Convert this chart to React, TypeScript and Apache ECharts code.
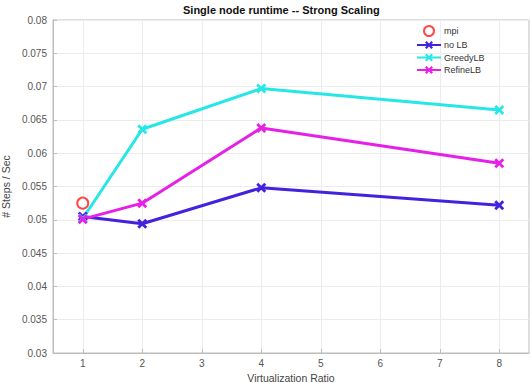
import React, { useEffect, useRef } from "react";
import * as echarts from "echarts";

const xTicks = [1, 2, 3, 4, 5, 6, 7, 8];
const ratios = [1, 2, 4, 8];
const mpiValues = [[1, 0.0525]];
const noLB = [0.0505, 0.0494, 0.0548, 0.0522];
const greedyLB = [0.0502, 0.0636, 0.0697, 0.0665];
const refineLB = [0.0501, 0.0525, 0.0638, 0.0585];

const X_MARK =
  "path://M2,0 L5,3 L8,0 L10,2 L7,5 L10,8 L8,10 L5,7 L2,10 L0,8 L3,5 L0,2 Z";
const FONT = "Liberation Sans, Arial, sans-serif";

function pairs(vals: number[]) {
  return ratios.map((r, i) => [r, vals[i]]);
}

export default function App() {
  const ref = useRef<HTMLDivElement>(null);
  useEffect(() => {
    if (!ref.current) return;
    const chart = echarts.init(ref.current, null, { renderer: "svg" });
    const lineSeries = (name: string, vals: number[], color: string) => ({
      name,
      type: "line",
      data: pairs(vals),
      symbol: X_MARK,
      symbolSize: 10,
      showAllSymbol: true,
      lineStyle: { color, width: 3 },
      itemStyle: { color },
      emphasis: { disabled: true },
    });
    chart.setOption({
      animation: false,
      backgroundColor: "#ffffff",
      textStyle: { fontFamily: FONT },
      title: {
        text: "Single node runtime -- Strong Scaling",
        left: 183,
        top: 4,
        padding: 0,
        textStyle: { fontSize: 11, fontWeight: "bold", color: "#111", fontFamily: FONT },
      },
      legend: {
        orient: "vertical",
        left: 416,
        top: 25,
        padding: 0,
        itemWidth: 24,
        itemHeight: 10,
        itemGap: 3.5,
        textStyle: { fontSize: 9, color: "#333", fontFamily: FONT, padding: [0, 0, 0, -2] },
        data: ["mpi", "no LB", "GreedyLB", "RefineLB"],
      },
      grid: {
        left: 53,
        right: 1,
        top: 20,
        bottom: 30,
        containLabel: false,
        outerBoundsMode: "none",
        show: true,
        borderColor: "#bdbdbd",
        borderWidth: 1,
      },
      xAxis: {
        type: "value",
        min: 0.5,
        max: 8.5,
        name: "Virtualization Ratio",
        nameLocation: "middle",
        nameGap: 16,
        nameTextStyle: { fontSize: 10.5, color: "#444", fontFamily: FONT },
        axisLine: { lineStyle: { color: "#bdbdbd" } },
        axisTick: { inside: true, length: 4, lineStyle: { color: "#bdbdbd" }, customValues: xTicks },
        axisLabel: { customValues: xTicks, fontSize: 10, color: "#555", margin: 5, fontFamily: FONT },
        splitLine: { show: true, lineStyle: { color: "#ececec" } },
      },
      yAxis: {
        type: "value",
        min: 0.03,
        max: 0.08,
        interval: 0.005,
        name: "# Steps / Sec",
        nameLocation: "middle",
        nameGap: 34,
        nameTextStyle: { fontSize: 10.5, color: "#444", fontFamily: FONT },
        axisLine: { show: true, lineStyle: { color: "#bdbdbd" } },
        axisTick: { show: true, inside: true, length: 4, lineStyle: { color: "#bdbdbd" } },
        axisLabel: {
          fontSize: 10,
          color: "#555",
          margin: 6,
          fontFamily: FONT,
          formatter: (v: number) => String(+v.toFixed(3)),
        },
        splitLine: { show: true, lineStyle: { color: "#ececec" } },
      },
      series: [
        {
          name: "mpi",
          type: "scatter",
          data: mpiValues,
          symbol: "emptyCircle",
          symbolSize: 11,
          itemStyle: { color: "#ff1a1a", borderColor: "#ff1a1a", borderWidth: 3 },
          emphasis: { disabled: true },
          z: 5,
        },
        lineSeries("no LB", noLB, "#4422dd"),
        lineSeries("GreedyLB", greedyLB, "#26e6e6"),
        lineSeries("RefineLB", refineLB, "#e620e6"),
      ],
    });
    return () => chart.dispose();
  }, []);
  return <div ref={ref} style={{ width: 530, height: 383, position: "absolute", left: 0, top: 0 }} />;
}
